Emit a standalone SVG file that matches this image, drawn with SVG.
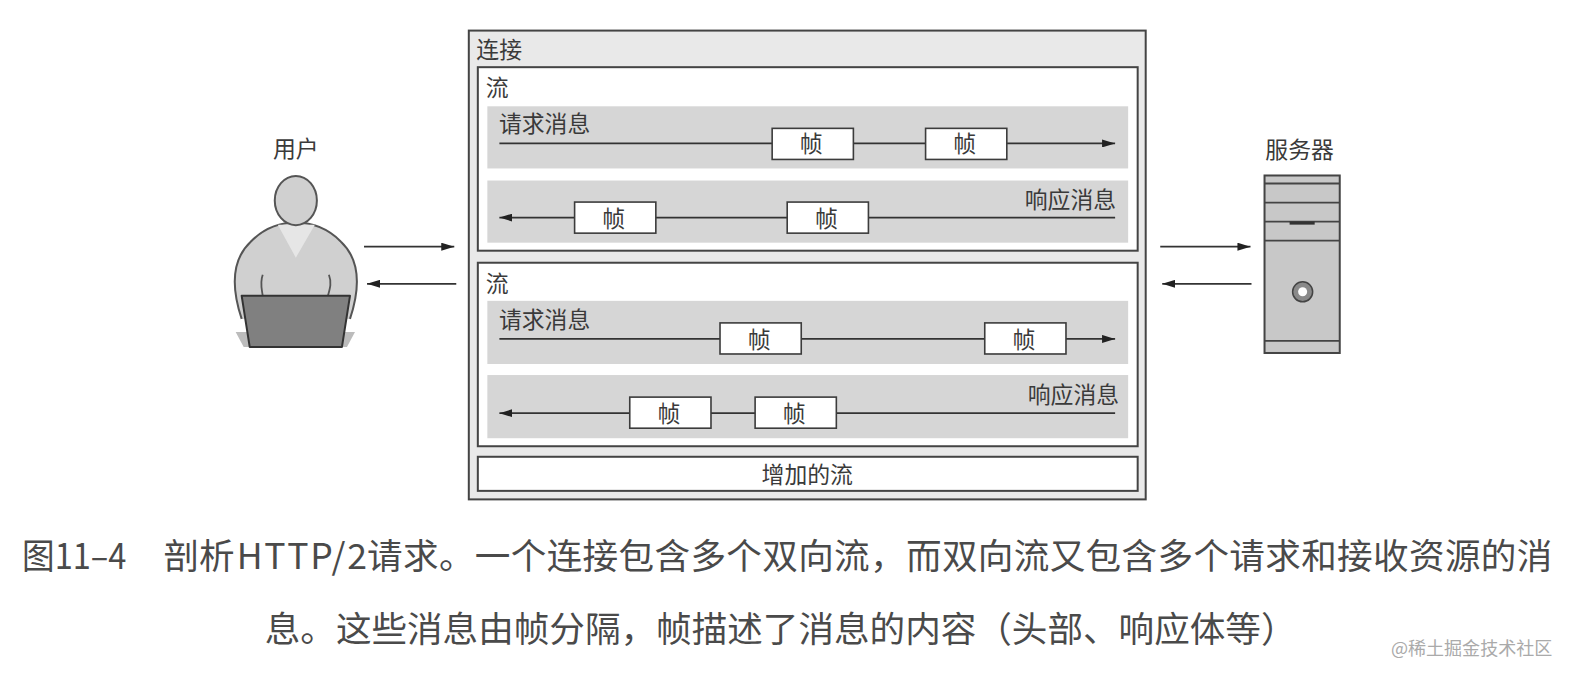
<svg xmlns="http://www.w3.org/2000/svg" width="1572" height="680" viewBox="0 0 1572 680">
<style>
text{font-family:"Noto Sans CJK SC","Noto Sans",sans-serif;fill:#333}
.l{font-size:22.800px;fill:#3a3a3a}
.cap{font-size:35.500px;fill:#4a4a4a}
.box{stroke:#444;stroke-width:2}
.band{fill:#d6d6d6}
.fr{fill:#fff;stroke:#3c3c3c;stroke-width:1.6}
.ln{stroke:#333;stroke-width:1.8;fill:none}
.body{fill:#d0d0d0;stroke:#555;stroke-width:2}
.srv{stroke:#444;stroke-width:1.8;fill:none}
</style>
<defs>
<marker id="a" markerWidth="14" markerHeight="8" refX="13" refY="4" orient="auto-start-reverse" markerUnits="userSpaceOnUse"><path d="M0 0L13 4L0 8z" fill="#222"/></marker>
</defs>
<rect width="1572" height="680" fill="#fff"/>
<g transform="scale(1.0028)">
<g id="connection">
<rect class="box" x="467.500" y="30.500" width="675" height="467.500" fill="#e9e9e9"/>
<text class="l" x="475" y="58">连接</text>
</g>
<g id="stream1">
<rect class="box" x="476.500" y="67" width="658" height="183" fill="#fff"/>
<text class="l" x="484.500" y="96">流</text>
<rect class="band" x="486" y="106" width="639" height="62"/>
<rect class="band" x="486" y="180" width="639" height="62"/>
<text class="l" x="497.500" y="132">请求消息</text>
<text class="l" x="1113" y="207" text-anchor="end">响应消息</text>
</g>
<g id="stream2">
<rect class="box" x="476.500" y="262" width="658" height="183" fill="#fff"/>
<text class="l" x="484.500" y="291">流</text>
<rect class="band" x="486" y="300" width="639" height="63"/>
<rect class="band" x="486" y="374" width="639" height="63"/>
<text class="l" x="497.500" y="327">请求消息</text>
<text class="l" x="1116" y="402" text-anchor="end">响应消息</text>
</g>
<g id="added-stream">
<rect class="box" x="476.500" y="455.500" width="658" height="34" fill="#fff"/>
<text class="l" x="805" y="482" text-anchor="middle">增加的流</text>
</g>
<g id="connectors">
<path class="ln" d="M498 143H1112" marker-end="url(#a)"/>
<path class="ln" d="M1112 217H498" marker-end="url(#a)"/>
<path class="ln" d="M498 338H1112" marker-end="url(#a)"/>
<path class="ln" d="M1112 412H498" marker-end="url(#a)"/>
<path class="ln" d="M363 246H453" marker-end="url(#a)"/>
<path class="ln" d="M455 283H366" marker-end="url(#a)"/>
<path class="ln" d="M1157 246H1247" marker-end="url(#a)"/>
<path class="ln" d="M1248 283H1159" marker-end="url(#a)"/>
</g>
<g id="frame-1"><rect class="fr" x="770" y="128" width="81" height="31"/><text class="l" x="809" y="152" text-anchor="middle">帧</text></g>
<g id="frame-2"><rect class="fr" x="923" y="128" width="81" height="31"/><text class="l" x="962" y="152" text-anchor="middle">帧</text></g>
<g id="frame-3"><rect class="fr" x="573" y="201.500" width="81" height="31"/><text class="l" x="612" y="226" text-anchor="middle">帧</text></g>
<g id="frame-4"><rect class="fr" x="785" y="201.500" width="81" height="31"/><text class="l" x="824" y="226" text-anchor="middle">帧</text></g>
<g id="frame-5"><rect class="fr" x="718" y="322" width="81" height="31"/><text class="l" x="757" y="347" text-anchor="middle">帧</text></g>
<g id="frame-6"><rect class="fr" x="982" y="322" width="81" height="31"/><text class="l" x="1021" y="347" text-anchor="middle">帧</text></g>
<g id="frame-7"><rect class="fr" x="628" y="396" width="81" height="31"/><text class="l" x="667" y="421" text-anchor="middle">帧</text></g>
<g id="frame-8"><rect class="fr" x="753" y="396" width="81" height="31"/><text class="l" x="792" y="421" text-anchor="middle">帧</text></g>
<g id="user">
<text class="l" x="295" y="157" text-anchor="middle">用户</text>
<path d="M235 331H354L346 346H243z" fill="#bcbcbc"/>
<path class="body" d="M241 318C230 285 232 258 250 241C262 229 278 222 295 222C312 222 328 229 340 241C358 258 360 285 349 318" fill="#d0d0d0"/>
<path d="M277 224H314L295 257z" fill="#e6e6e6"/>
<ellipse class="body" cx="295" cy="200" rx="21" ry="24.500" fill="#dcdcdc"/>
<path class="ln" style="stroke:#555" d="M262 274C259 282 261 288 262 295M328 274C331 282 329 288 327 295"/>
<path d="M241 295H349L341 346H249z" fill="#808080" stroke="#333" stroke-width="2" stroke-linejoin="round"/>
</g>
<g id="server">
<text class="l" x="1296" y="158" text-anchor="middle">服务器</text>
<rect x="1261" y="175" width="75" height="177" fill="#c8c8c8" stroke="#444" stroke-width="2"/>
<path class="srv" d="M1261 183H1336M1261 202H1336M1261 221H1336M1261 240H1336M1261 340H1336"/>
<rect x="1286" y="221" width="25" height="3" fill="#333"/>
<circle cx="1299" cy="291" r="10" fill="#8a8a8a" stroke="#444" stroke-width="1.500"/>
<circle cx="1299" cy="291" r="4.500" fill="#fff"/>
</g>
<g id="caption">
<text class="cap" x="22" y="567" textLength="104" lengthAdjust="spacingAndGlyphs">图11–4</text>
<text class="cap" x="163" y="567">剖析</text>
<text class="cap" x="236" y="567" textLength="130">HTTP/2</text>
<text class="cap" x="366" y="567" textLength="1182">请求。一个连接包含多个双向流，而双向流又包含多个请求和接收资源的消</text>
<text class="cap" x="264" y="640">息。这些消息由帧分隔，帧描述了消息的内容（头部、响应体等）</text>
</g>
<g id="watermark">
<text x="1387" y="653" style="font-size:18px;fill:#aaa">@稀土掘金技术社区</text>
</g>
</g>
</svg>
